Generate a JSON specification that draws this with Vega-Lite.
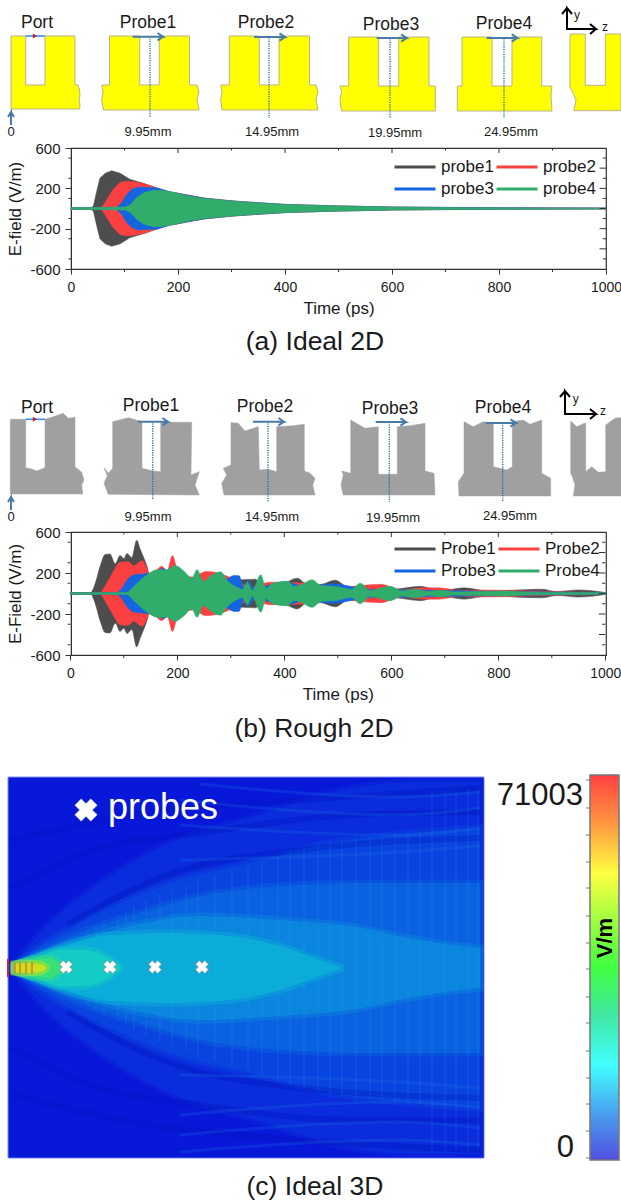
{
"$schema":"https://vega.github.io/schema/vega-lite/v6.json",
"padding":0,
"autosize":{"type":"pad"},
"background":"white",
"bounds":"flush",
"spacing":0,
"config":{"view":{"stroke":null},"font":"Liberation Sans"},
"datasets":{
"frameTicks":[
{"x":100,"x2":100,"y":-600,"y2":-630},{"x":300,"x2":300,"y":-600,"y2":-630},{"x":500,"x2":500,"y":-600,"y2":-630},{"x":700,"x2":700,"y":-600,"y2":-630},{"x":900,"x2":900,"y":-600,"y2":-630},
{"x":200,"x2":200,"y":600,"y2":550},{"x":400,"x2":400,"y":600,"y2":550},{"x":600,"x2":600,"y":600,"y2":550},{"x":800,"x2":800,"y":600,"y2":550},
{"x":100,"x2":100,"y":600,"y2":575},{"x":300,"x2":300,"y":600,"y2":575},{"x":500,"x2":500,"y":600,"y2":575},{"x":700,"x2":700,"y":600,"y2":575},{"x":900,"x2":900,"y":600,"y2":575},
{"x":0,"x2":-5,"y":-500,"y2":-500},{"x":0,"x2":-5,"y":-300,"y2":-300},{"x":0,"x2":-5,"y":-100,"y2":-100},{"x":0,"x2":-5,"y":100,"y2":100},{"x":0,"x2":-5,"y":300,"y2":300},{"x":0,"x2":-5,"y":500,"y2":500},
{"x":1000,"x2":988,"y":-400,"y2":-400},{"x":1000,"x2":988,"y":-200,"y2":-200},{"x":1000,"x2":988,"y":0,"y2":0},{"x":1000,"x2":988,"y":200,"y2":200},{"x":1000,"x2":988,"y":400,"y2":400},
{"x":1000,"x2":994,"y":-500,"y2":-500},{"x":1000,"x2":994,"y":-300,"y2":-300},{"x":1000,"x2":994,"y":-100,"y2":-100},{"x":1000,"x2":994,"y":100,"y2":100},{"x":1000,"x2":994,"y":300,"y2":300},{"x":1000,"x2":994,"y":500,"y2":500}
],
"idealEnvelope":[
{"p":"probe1","t":0,"hi":8},{"p":"probe1","t":38,"hi":8},{"p":"probe1","t":42,"hi":30},{"p":"probe1","t":48,"hi":170},{"p":"probe1","t":54,"hi":300},{"p":"probe1","t":64,"hi":350},{"p":"probe1","t":76,"hi":375},{"p":"probe1","t":92,"hi":350},{"p":"probe1","t":110,"hi":290},{"p":"probe1","t":135,"hi":250},{"p":"probe1","t":160,"hi":205},{"p":"probe1","t":180,"hi":170},{"p":"probe1","t":200,"hi":152},{"p":"probe1","t":220,"hi":127},{"p":"probe1","t":250,"hi":102},{"p":"probe1","t":300,"hi":76},{"p":"probe1","t":350,"hi":56},{"p":"probe1","t":400,"hi":41},{"p":"probe1","t":450,"hi":33},{"p":"probe1","t":500,"hi":26},{"p":"probe1","t":600,"hi":15},{"p":"probe1","t":700,"hi":10},{"p":"probe1","t":800,"hi":7},{"p":"probe1","t":900,"hi":6},{"p":"probe1","t":1000,"hi":5},
{"p":"probe2","t":0,"hi":8},{"p":"probe2","t":55,"hi":8},{"p":"probe2","t":60,"hi":30},{"p":"probe2","t":67,"hi":90},{"p":"probe2","t":79,"hi":190},{"p":"probe2","t":92,"hi":260},{"p":"probe2","t":107,"hi":272},{"p":"probe2","t":135,"hi":250},{"p":"probe2","t":160,"hi":203},{"p":"probe2","t":185,"hi":165},{"p":"probe2","t":200,"hi":151},{"p":"probe2","t":250,"hi":103},{"p":"probe2","t":300,"hi":75},{"p":"probe2","t":400,"hi":40},{"p":"probe2","t":500,"hi":25},{"p":"probe2","t":600,"hi":15},{"p":"probe2","t":800,"hi":7},{"p":"probe2","t":1000,"hi":5},
{"p":"probe3","t":0,"hi":8},{"p":"probe3","t":85,"hi":10},{"p":"probe3","t":95,"hi":60},{"p":"probe3","t":104,"hi":140},{"p":"probe3","t":114,"hi":190},{"p":"probe3","t":126,"hi":212},{"p":"probe3","t":160,"hi":205},{"p":"probe3","t":185,"hi":165},{"p":"probe3","t":200,"hi":150},{"p":"probe3","t":250,"hi":102},{"p":"probe3","t":300,"hi":75},{"p":"probe3","t":400,"hi":40},{"p":"probe3","t":500,"hi":25},{"p":"probe3","t":600,"hi":15},{"p":"probe3","t":800,"hi":7},{"p":"probe3","t":1000,"hi":5},
{"p":"probe4","t":0,"hi":8},{"p":"probe4","t":101,"hi":15},{"p":"probe4","t":111,"hi":40},{"p":"probe4","t":123,"hi":110},{"p":"probe4","t":136,"hi":155},{"p":"probe4","t":154,"hi":180},{"p":"probe4","t":168,"hi":180},{"p":"probe4","t":185,"hi":165},{"p":"probe4","t":200,"hi":150},{"p":"probe4","t":220,"hi":125},{"p":"probe4","t":250,"hi":100},{"p":"probe4","t":300,"hi":74},{"p":"probe4","t":350,"hi":55},{"p":"probe4","t":400,"hi":40},{"p":"probe4","t":450,"hi":32},{"p":"probe4","t":500,"hi":25},{"p":"probe4","t":600,"hi":14},{"p":"probe4","t":700,"hi":9},{"p":"probe4","t":800,"hi":7},{"p":"probe4","t":900,"hi":5},{"p":"probe4","t":1000,"hi":4}
],
"roughEnvelope":[
{"p":"Probe1","t":0,"hi":8},{"p":"Probe1","t":38,"hi":8},{"p":"Probe1","t":46,"hi":90},{"p":"Probe1","t":56,"hi":270},{"p":"Probe1","t":65,"hi":380},{"p":"Probe1","t":74,"hi":385},{"p":"Probe1","t":84,"hi":290},{"p":"Probe1","t":93,"hi":370},{"p":"Probe1","t":100,"hi":340},{"p":"Probe1","t":106,"hi":390},{"p":"Probe1","t":115,"hi":350},{"p":"Probe1","t":124,"hi":520},{"p":"Probe1","t":131,"hi":430},{"p":"Probe1","t":143,"hi":270},{"p":"Probe1","t":150,"hi":150},{"p":"Probe1","t":300,"hi":130},{"p":"Probe1","t":346,"hi":140},{"p":"Probe1","t":360,"hi":60},{"p":"Probe1","t":400,"hi":100},{"p":"Probe1","t":424,"hi":150},{"p":"Probe1","t":445,"hi":80},{"p":"Probe1","t":470,"hi":90},{"p":"Probe1","t":495,"hi":130},{"p":"Probe1","t":520,"hi":60},{"p":"Probe1","t":600,"hi":40},{"p":"Probe1","t":655,"hi":70},{"p":"Probe1","t":690,"hi":25},{"p":"Probe1","t":736,"hi":55},{"p":"Probe1","t":780,"hi":25},{"p":"Probe1","t":880,"hi":42},{"p":"Probe1","t":910,"hi":20},{"p":"Probe1","t":950,"hi":35},{"p":"Probe1","t":1000,"hi":10},
{"p":"Probe2","t":0,"hi":8},{"p":"Probe2","t":55,"hi":8},{"p":"Probe2","t":68,"hi":100},{"p":"Probe2","t":81,"hi":220},{"p":"Probe2","t":93,"hi":305},{"p":"Probe2","t":109,"hi":310},{"p":"Probe2","t":118,"hi":270},{"p":"Probe2","t":134,"hi":320},{"p":"Probe2","t":143,"hi":250},{"p":"Probe2","t":149,"hi":170},{"p":"Probe2","t":171,"hi":265},{"p":"Probe2","t":181,"hi":220},{"p":"Probe2","t":191,"hi":370},{"p":"Probe2","t":200,"hi":240},{"p":"Probe2","t":230,"hi":160},{"p":"Probe2","t":253,"hi":215},{"p":"Probe2","t":268,"hi":210},{"p":"Probe2","t":300,"hi":155},{"p":"Probe2","t":340,"hi":60},{"p":"Probe2","t":372,"hi":110},{"p":"Probe2","t":450,"hi":100},{"p":"Probe2","t":500,"hi":60},{"p":"Probe2","t":580,"hi":90},{"p":"Probe2","t":620,"hi":35},{"p":"Probe2","t":661,"hi":55},{"p":"Probe2","t":690,"hi":55},{"p":"Probe2","t":730,"hi":25},{"p":"Probe2","t":765,"hi":35},{"p":"Probe2","t":900,"hi":18},{"p":"Probe2","t":1000,"hi":8},
{"p":"Probe3","t":0,"hi":8},{"p":"Probe3","t":87,"hi":10},{"p":"Probe3","t":96,"hi":50},{"p":"Probe3","t":106,"hi":130},{"p":"Probe3","t":118,"hi":180},{"p":"Probe3","t":143,"hi":195},{"p":"Probe3","t":162,"hi":215},{"p":"Probe3","t":174,"hi":245},{"p":"Probe3","t":187,"hi":200},{"p":"Probe3","t":280,"hi":100},{"p":"Probe3","t":306,"hi":175},{"p":"Probe3","t":315,"hi":175},{"p":"Probe3","t":325,"hi":60},{"p":"Probe3","t":331,"hi":125},{"p":"Probe3","t":345,"hi":50},{"p":"Probe3","t":400,"hi":115},{"p":"Probe3","t":440,"hi":70},{"p":"Probe3","t":490,"hi":95},{"p":"Probe3","t":560,"hi":40},{"p":"Probe3","t":640,"hi":35},{"p":"Probe3","t":800,"hi":20},{"p":"Probe3","t":1000,"hi":8},
{"p":"Probe4","t":0,"hi":8},{"p":"Probe4","t":106,"hi":10},{"p":"Probe4","t":115,"hi":50},{"p":"Probe4","t":131,"hi":130},{"p":"Probe4","t":143,"hi":180},{"p":"Probe4","t":162,"hi":232},{"p":"Probe4","t":181,"hi":232},{"p":"Probe4","t":196,"hi":272},{"p":"Probe4","t":212,"hi":220},{"p":"Probe4","t":227,"hi":150},{"p":"Probe4","t":237,"hi":232},{"p":"Probe4","t":249,"hi":120},{"p":"Probe4","t":262,"hi":170},{"p":"Probe4","t":281,"hi":212},{"p":"Probe4","t":293,"hi":130},{"p":"Probe4","t":312,"hi":60},{"p":"Probe4","t":321,"hi":40},{"p":"Probe4","t":331,"hi":110},{"p":"Probe4","t":340,"hi":30},{"p":"Probe4","t":356,"hi":182},{"p":"Probe4","t":366,"hi":50},{"p":"Probe4","t":378,"hi":100},{"p":"Probe4","t":406,"hi":120},{"p":"Probe4","t":418,"hi":70},{"p":"Probe4","t":431,"hi":85},{"p":"Probe4","t":452,"hi":135},{"p":"Probe4","t":468,"hi":80},{"p":"Probe4","t":500,"hi":65},{"p":"Probe4","t":525,"hi":40},{"p":"Probe4","t":542,"hi":100},{"p":"Probe4","t":560,"hi":30},{"p":"Probe4","t":598,"hi":70},{"p":"Probe4","t":620,"hi":25},{"p":"Probe4","t":645,"hi":42},{"p":"Probe4","t":670,"hi":20},{"p":"Probe4","t":692,"hi":32},{"p":"Probe4","t":720,"hi":15},{"p":"Probe4","t":812,"hi":25},{"p":"Probe4","t":860,"hi":12},{"p":"Probe4","t":1000,"hi":8}
]
},
"resolve":{"scale":{"color":"independent","stroke":"independent"},"legend":{"color":"independent","stroke":"independent"}},
"vconcat":[
{"width":535,"height":148,
"encoding":{"x":{"field":"x","type":"quantitative","scale":{"domain":[71,606],"nice":false,"zero":false},"axis":null},"y":{"field":"y","type":"quantitative","scale":{"domain":[0,148],"reverse":true,"nice":false,"zero":false},"axis":null}},
"layer":[
{"data":{"values":[{"x":0,"x2":621,"y":0,"y2":148}]},"mark":{"type":"rect","opacity":0},"encoding":{"x2":{"field":"x2"},"y2":{"field":"y2"}}},
{"data":{"values":[
{"s":"port","i":0,"x":11,"y":36},{"s":"port","i":1,"x":25.7,"y":36},{"s":"port","i":2,"x":25.7,"y":85},{"s":"port","i":3,"x":45,"y":85},{"s":"port","i":4,"x":45,"y":36},{"s":"port","i":5,"x":75,"y":36},{"s":"port","i":6,"x":75,"y":85},{"s":"port","i":7,"x":78,"y":85},{"s":"port","i":8,"x":79.5,"y":90},{"s":"port","i":9,"x":80,"y":96},{"s":"port","i":10,"x":79,"y":100},{"s":"port","i":11,"x":80,"y":105},{"s":"port","i":12,"x":79.5,"y":109},{"s":"port","i":13,"x":11,"y":109},{"s":"port","i":14,"x":11,"y":36},
{"s":"p1","i":0,"x":109.5,"y":36},{"s":"p1","i":1,"x":139.7,"y":36},{"s":"p1","i":2,"x":139.7,"y":85},{"s":"p1","i":3,"x":159.3,"y":85},{"s":"p1","i":4,"x":159.3,"y":36},{"s":"p1","i":5,"x":189.5,"y":36},{"s":"p1","i":6,"x":189.5,"y":85},{"s":"p1","i":7,"x":197,"y":85},{"s":"p1","i":8,"x":199,"y":92},{"s":"p1","i":9,"x":197,"y":99},{"s":"p1","i":10,"x":199,"y":110},{"s":"p1","i":11,"x":103.5,"y":110},{"s":"p1","i":12,"x":101.7,"y":100},{"s":"p1","i":13,"x":103,"y":92},{"s":"p1","i":14,"x":101.7,"y":85},{"s":"p1","i":15,"x":109.5,"y":85},{"s":"p1","i":16,"x":109.5,"y":36},
{"s":"p2","i":0,"x":229.3,"y":36},{"s":"p2","i":1,"x":259.3,"y":36},{"s":"p2","i":2,"x":259.3,"y":85},{"s":"p2","i":3,"x":279,"y":85},{"s":"p2","i":4,"x":279,"y":36},{"s":"p2","i":5,"x":309.5,"y":36},{"s":"p2","i":6,"x":309.5,"y":85},{"s":"p2","i":7,"x":316,"y":85},{"s":"p2","i":8,"x":318,"y":92},{"s":"p2","i":9,"x":316,"y":99},{"s":"p2","i":10,"x":318,"y":110},{"s":"p2","i":11,"x":222,"y":110},{"s":"p2","i":12,"x":220.7,"y":100},{"s":"p2","i":13,"x":222,"y":92},{"s":"p2","i":14,"x":220.7,"y":85},{"s":"p2","i":15,"x":229.3,"y":85},{"s":"p2","i":16,"x":229.3,"y":36},
{"s":"p3","i":0,"x":348.7,"y":37},{"s":"p3","i":1,"x":378.7,"y":37},{"s":"p3","i":2,"x":378.7,"y":86},{"s":"p3","i":3,"x":398.7,"y":86},{"s":"p3","i":4,"x":398.7,"y":37},{"s":"p3","i":5,"x":429,"y":37},{"s":"p3","i":6,"x":429,"y":86},{"s":"p3","i":7,"x":435.3,"y":86},{"s":"p3","i":8,"x":435.3,"y":111},{"s":"p3","i":9,"x":341.5,"y":111},{"s":"p3","i":10,"x":340,"y":100},{"s":"p3","i":11,"x":341.5,"y":92},{"s":"p3","i":12,"x":340,"y":86},{"s":"p3","i":13,"x":348.7,"y":86},{"s":"p3","i":14,"x":348.7,"y":37},
{"s":"p4","i":0,"x":462,"y":37},{"s":"p4","i":1,"x":492,"y":37},{"s":"p4","i":2,"x":492,"y":86},{"s":"p4","i":3,"x":512,"y":86},{"s":"p4","i":4,"x":512,"y":37},{"s":"p4","i":5,"x":541.7,"y":37},{"s":"p4","i":6,"x":541.7,"y":86},{"s":"p4","i":7,"x":552,"y":86},{"s":"p4","i":8,"x":551,"y":95},{"s":"p4","i":9,"x":552,"y":111},{"s":"p4","i":10,"x":457.3,"y":111},{"s":"p4","i":11,"x":457.3,"y":86},{"s":"p4","i":12,"x":462,"y":86},{"s":"p4","i":13,"x":462,"y":37},
{"s":"end","i":0,"x":570,"y":34},{"s":"end","i":1,"x":585.3,"y":34},{"s":"end","i":2,"x":585.3,"y":85.3},{"s":"end","i":3,"x":605.3,"y":85.3},{"s":"end","i":4,"x":605.3,"y":34},{"s":"end","i":5,"x":621,"y":34},{"s":"end","i":6,"x":621,"y":110.7},{"s":"end","i":7,"x":574,"y":110.7},{"s":"end","i":8,"x":576,"y":100},{"s":"end","i":9,"x":573,"y":93},{"s":"end","i":10,"x":570,"y":87},{"s":"end","i":11,"x":570,"y":34}
]},"mark":{"type":"line","fill":"#ffff00","stroke":"#b8b48c","strokeWidth":1},"encoding":{"detail":{"field":"s"},"order":{"field":"i"}}},
{"data":{"values":[{"x":25.7,"x2":45,"y":36,"y2":36}]},"mark":{"type":"rule","color":"#2a8cf0","strokeWidth":1.5},"encoding":{"x2":{"field":"x2"},"y2":{"field":"y2"}}},
{"data":{"values":[{"x":35,"y":36}]},"mark":{"type":"point","shape":"triangle-right","filled":true,"color":"#c02030","size":25,"opacity":1}},
{"data":{"values":[{"x":150,"x2":150,"y":36,"y2":117},{"x":269,"x2":269,"y":36,"y2":118},{"x":390,"x2":390,"y":37,"y2":118},{"x":504,"x2":504,"y":37,"y2":118}]},"mark":{"type":"rule","color":"#2f6f9f","strokeWidth":1.4,"strokeDash":[1.2,1.2]},"encoding":{"x2":{"field":"x2"},"y2":{"field":"y2"}}},
{"data":{"values":[
{"s":"a1","i":0,"x":132.7,"y":36.7},{"s":"a1","i":1,"x":163,"y":36.7},{"s":"a1","i":2,"x":157.5,"y":33},{"s":"a1","i":3,"x":163,"y":36.7},{"s":"a1","i":4,"x":157.5,"y":40.4},
{"s":"a2","i":0,"x":254,"y":37},{"s":"a2","i":1,"x":285,"y":37},{"s":"a2","i":2,"x":279.5,"y":33.3},{"s":"a2","i":3,"x":285,"y":37},{"s":"a2","i":4,"x":279.5,"y":40.7},
{"s":"a3","i":0,"x":376.7,"y":38},{"s":"a3","i":1,"x":406.7,"y":38},{"s":"a3","i":2,"x":401.2,"y":34.3},{"s":"a3","i":3,"x":406.7,"y":38},{"s":"a3","i":4,"x":401.2,"y":41.7},
{"s":"a4","i":0,"x":486.7,"y":38},{"s":"a4","i":1,"x":517.3,"y":38},{"s":"a4","i":2,"x":511.8,"y":34.3},{"s":"a4","i":3,"x":517.3,"y":38},{"s":"a4","i":4,"x":511.8,"y":41.7},
{"s":"a0","i":0,"x":11,"y":125},{"s":"a0","i":1,"x":11,"y":112},{"s":"a0","i":2,"x":8,"y":117},{"s":"a0","i":3,"x":11,"y":112},{"s":"a0","i":4,"x":14,"y":117}
]},"mark":{"type":"line","color":"#4a7ba8","strokeWidth":2},"encoding":{"detail":{"field":"s"},"order":{"field":"i"}}},
{"data":{"values":[
{"s":"ax","i":0,"x":562,"y":14},{"s":"ax","i":1,"x":567,"y":8},{"s":"ax","i":2,"x":572,"y":14},{"s":"ax","i":3,"x":567,"y":8},{"s":"ax","i":4,"x":567,"y":29},{"s":"ax","i":5,"x":596,"y":29},{"s":"ax","i":6,"x":590,"y":24},{"s":"ax","i":7,"x":596,"y":29},{"s":"ax","i":8,"x":590,"y":34}
]},"mark":{"type":"line","color":"#000000","strokeWidth":2},"encoding":{"detail":{"field":"s"},"order":{"field":"i"}}},
{"data":{"values":[{"x":37,"y":23,"label":"Port"},{"x":148,"y":23,"label":"Probe1"},{"x":266,"y":23,"label":"Probe2"},{"x":391,"y":25,"label":"Probe3"},{"x":504,"y":24,"label":"Probe4"}]},"mark":{"type":"text","fontSize":17.5,"color":"#1a1a1a"},"encoding":{"text":{"field":"label"}}},
{"data":{"values":[{"x":148,"y":132,"label":"9.95mm"},{"x":272,"y":132,"label":"14.95mm"},{"x":395,"y":133,"label":"19.95mm"},{"x":511,"y":132,"label":"24.95mm"},{"x":11,"y":132,"label":"0"}]},"mark":{"type":"text","fontSize":13,"color":"#1a1a1a"},"encoding":{"text":{"field":"label"}}},
{"data":{"values":[{"x":577,"y":15,"label":"y"},{"x":605,"y":27,"label":"z"}]},"mark":{"type":"text","fontSize":12,"color":"#1a1a1a"},"encoding":{"text":{"field":"label"}}}
]},
{"width":535,"height":121,"view":{"stroke":"#333333","strokeWidth":1.2},
"layer":[
{"data":{"name":"idealEnvelope"},"transform":[{"calculate":"-datum.hi","as":"lo"}],"mark":{"type":"area","strokeWidth":0.5},
"encoding":{"x":{"field":"t","type":"quantitative","scale":{"domain":[0,1000],"nice":false},"axis":{"values":[0,200,400,600,800,1000],"labelExpr":"toString(datum.value)","title":"Time (ps)","titleFontSize":17,"titleFontWeight":"normal","titleColor":"#1a1a1a","titlePadding":6,"labelFontSize":14,"labelColor":"#1a1a1a","labelPadding":6,"labelOverlap":false,"grid":false,"tickSize":5,"tickColor":"#333333","domainColor":"#333333","labelFlush":false}},
"y":{"field":"hi","type":"quantitative","stack":null,"scale":{"domain":[-600,600],"nice":false},"axis":{"values":[-600,-400,-200,0,200,400,600],"labelExpr":"toString(datum.value)","title":"E-field (V/m)","titleFontSize":17,"titleFontWeight":"normal","titleColor":"#1a1a1a","titlePadding":5,"labelFontSize":15,"labelColor":"#1a1a1a","labelPadding":5,"labelOverlap":false,"grid":false,"tickSize":6,"tickColor":"#333333","domainColor":"#333333"}},
"y2":{"field":"lo"},
"color":{"field":"p","type":"nominal","scale":{"domain":["probe1","probe2","probe3","probe4"],"range":["#4d4d4d","#fa4040","#1565e0","#30ad6b"]},"legend":{"title":null,"orient":"none","direction":"horizontal","legendX":322,"legendY":8,"columns":2,"symbolType":"stroke","symbolSize":1681,"symbolStrokeWidth":3,"clipHeight":22,"rowPadding":0,"columnPadding":1,"labelOffset":4,"labelFontSize":17,"labelColor":"#1a1a1a","padding":0}},
"stroke":{"field":"p","type":"nominal","scale":{"domain":["probe1","probe2","probe3","probe4"],"range":["#4d4d4d","#fa4040","#1565e0","#30ad6b"]},"legend":{"title":null,"orient":"none","direction":"horizontal","legendX":322,"legendY":8,"columns":2,"symbolType":"stroke","symbolSize":1681,"symbolStrokeWidth":3,"clipHeight":22,"rowPadding":0,"columnPadding":1,"labelOffset":4,"labelFontSize":17,"labelColor":"#1a1a1a","padding":0}}}},
{"data":{"name":"frameTicks"},"mark":{"type":"rule","color":"#333333","strokeWidth":1},"encoding":{"x":{"field":"x","type":"quantitative"},"x2":{"field":"x2"},"y":{"field":"y","type":"quantitative"},"y2":{"field":"y2"}}}
]},
{"width":535,"height":263,
"encoding":{"x":{"field":"x","type":"quantitative","scale":{"domain":[71,606],"nice":false,"zero":false},"axis":null},"y":{"field":"y","type":"quantitative","scale":{"domain":[269,532],"reverse":true,"nice":false,"zero":false},"axis":null}},
"layer":[
{"data":{"values":[
{"s":"port","i":0,"x":10.3,"y":419.3},{"s":"port","i":1,"x":25.7,"y":419.3},{"s":"port","i":2,"x":25.7,"y":467.7},{"s":"port","i":3,"x":31.7,"y":469},{"s":"port","i":4,"x":36.7,"y":471},{"s":"port","i":5,"x":45,"y":467.7},{"s":"port","i":6,"x":45,"y":419.3},{"s":"port","i":7,"x":53.3,"y":416.7},{"s":"port","i":8,"x":63.3,"y":413.3},{"s":"port","i":9,"x":68.3,"y":418.3},{"s":"port","i":10,"x":75,"y":417.3},{"s":"port","i":11,"x":75,"y":466.7},{"s":"port","i":12,"x":81.7,"y":472.3},{"s":"port","i":13,"x":84,"y":480},{"s":"port","i":14,"x":81.7,"y":485},{"s":"port","i":15,"x":82.7,"y":494},{"s":"port","i":16,"x":10.3,"y":494},{"s":"port","i":17,"x":10.3,"y":419.3},
{"s":"p1","i":0,"x":112.7,"y":421.7},{"s":"p1","i":1,"x":128.3,"y":417.7},{"s":"p1","i":2,"x":142,"y":421.7},{"s":"p1","i":3,"x":142,"y":468.3},{"s":"p1","i":4,"x":153.3,"y":471},{"s":"p1","i":5,"x":160.7,"y":471.7},{"s":"p1","i":6,"x":160.7,"y":421.7},{"s":"p1","i":7,"x":173.3,"y":422.3},{"s":"p1","i":8,"x":191.7,"y":422.3},{"s":"p1","i":9,"x":191,"y":475},{"s":"p1","i":10,"x":199.3,"y":471.7},{"s":"p1","i":11,"x":195,"y":485},{"s":"p1","i":12,"x":199.3,"y":495},{"s":"p1","i":13,"x":108.3,"y":494.3},{"s":"p1","i":14,"x":104,"y":483.3},{"s":"p1","i":15,"x":107.3,"y":475.7},{"s":"p1","i":16,"x":104,"y":467.7},{"s":"p1","i":17,"x":108.3,"y":473.3},{"s":"p1","i":18,"x":112.7,"y":468.3},{"s":"p1","i":19,"x":112.7,"y":421.7},
{"s":"p2","i":0,"x":231,"y":422.7},{"s":"p2","i":1,"x":238.3,"y":423.3},{"s":"p2","i":2,"x":245,"y":431},{"s":"p2","i":3,"x":258.3,"y":426.7},{"s":"p2","i":4,"x":259.3,"y":470},{"s":"p2","i":5,"x":268.3,"y":469.3},{"s":"p2","i":6,"x":276.7,"y":471.7},{"s":"p2","i":7,"x":276.7,"y":426.7},{"s":"p2","i":8,"x":293.3,"y":425.7},{"s":"p2","i":9,"x":304.3,"y":424.3},{"s":"p2","i":10,"x":304.3,"y":471},{"s":"p2","i":11,"x":310,"y":473.3},{"s":"p2","i":12,"x":315,"y":478.3},{"s":"p2","i":13,"x":312.7,"y":485},{"s":"p2","i":14,"x":315,"y":495},{"s":"p2","i":15,"x":224,"y":495},{"s":"p2","i":16,"x":221.7,"y":483.3},{"s":"p2","i":17,"x":226.7,"y":475},{"s":"p2","i":18,"x":223.3,"y":468.3},{"s":"p2","i":19,"x":231,"y":465},{"s":"p2","i":20,"x":231,"y":422.7},
{"s":"p3","i":0,"x":350.7,"y":420},{"s":"p3","i":1,"x":365,"y":428.3},{"s":"p3","i":2,"x":378.3,"y":426.7},{"s":"p3","i":3,"x":378.3,"y":474.3},{"s":"p3","i":4,"x":388.3,"y":474.3},{"s":"p3","i":5,"x":397.3,"y":474.3},{"s":"p3","i":6,"x":397.3,"y":426.7},{"s":"p3","i":7,"x":410,"y":425.7},{"s":"p3","i":8,"x":425,"y":423.3},{"s":"p3","i":9,"x":425,"y":471},{"s":"p3","i":10,"x":434,"y":473.3},{"s":"p3","i":11,"x":435,"y":495},{"s":"p3","i":12,"x":343.3,"y":495},{"s":"p3","i":13,"x":341,"y":485},{"s":"p3","i":14,"x":343.3,"y":475},{"s":"p3","i":15,"x":341.7,"y":471},{"s":"p3","i":16,"x":350.7,"y":473.3},{"s":"p3","i":17,"x":350.7,"y":420},
{"s":"p4","i":0,"x":464,"y":421.7},{"s":"p4","i":1,"x":473.3,"y":426.7},{"s":"p4","i":2,"x":483.3,"y":421.7},{"s":"p4","i":3,"x":493.3,"y":423.3},{"s":"p4","i":4,"x":493.3,"y":466.7},{"s":"p4","i":5,"x":500,"y":468.3},{"s":"p4","i":6,"x":506.7,"y":470},{"s":"p4","i":7,"x":512.3,"y":466.7},{"s":"p4","i":8,"x":512.3,"y":421.7},{"s":"p4","i":9,"x":523.3,"y":420},{"s":"p4","i":10,"x":530,"y":424.3},{"s":"p4","i":11,"x":541.7,"y":420},{"s":"p4","i":12,"x":541.7,"y":473.3},{"s":"p4","i":13,"x":550.7,"y":478.3},{"s":"p4","i":14,"x":550.7,"y":496},{"s":"p4","i":15,"x":459,"y":496},{"s":"p4","i":16,"x":458.3,"y":481.7},{"s":"p4","i":17,"x":464,"y":473.3},{"s":"p4","i":18,"x":464,"y":421.7},
{"s":"end","i":0,"x":570.7,"y":421},{"s":"end","i":1,"x":576.7,"y":426.7},{"s":"end","i":2,"x":585.7,"y":422.7},{"s":"end","i":3,"x":585.7,"y":471.7},{"s":"end","i":4,"x":591.7,"y":466.7},{"s":"end","i":5,"x":598.3,"y":472.3},{"s":"end","i":6,"x":605.7,"y":471.7},{"s":"end","i":7,"x":605.7,"y":425},{"s":"end","i":8,"x":615,"y":418.3},{"s":"end","i":9,"x":621,"y":417.7},{"s":"end","i":10,"x":621,"y":496},{"s":"end","i":11,"x":573.3,"y":496},{"s":"end","i":12,"x":575,"y":485},{"s":"end","i":13,"x":571.7,"y":475},{"s":"end","i":14,"x":570.7,"y":473.3},{"s":"end","i":15,"x":570.7,"y":421}
]},"mark":{"type":"line","fill":"#a0a0a0","stroke":"#a0a0a0","strokeWidth":0.5},"encoding":{"detail":{"field":"s"},"order":{"field":"i"}}},
{"data":{"values":[{"x":25.7,"x2":45,"y":419.3,"y2":419.3}]},"mark":{"type":"rule","color":"#2a8cf0","strokeWidth":1.5},"encoding":{"x2":{"field":"x2"},"y2":{"field":"y2"}}},
{"data":{"values":[{"x":35,"y":419.3}]},"mark":{"type":"point","shape":"triangle-right","filled":true,"color":"#c02030","size":25,"opacity":1}},
{"data":{"values":[{"x":152.7,"x2":152.7,"y":421,"y2":499},{"x":268,"x2":268,"y":421,"y2":502},{"x":389.3,"x2":389.3,"y":422,"y2":502},{"x":502.7,"x2":502.7,"y":423,"y2":502}]},"mark":{"type":"rule","color":"#2f6f9f","strokeWidth":1.4,"strokeDash":[1.2,1.2]},"encoding":{"x2":{"field":"x2"},"y2":{"field":"y2"}}},
{"data":{"values":[
{"s":"a1","i":0,"x":138,"y":421.7},{"s":"a1","i":1,"x":168,"y":421.7},{"s":"a1","i":2,"x":162.5,"y":418},{"s":"a1","i":3,"x":168,"y":421.7},{"s":"a1","i":4,"x":162.5,"y":425.4},
{"s":"a2","i":0,"x":253,"y":421.7},{"s":"a2","i":1,"x":284,"y":421.7},{"s":"a2","i":2,"x":278.5,"y":418},{"s":"a2","i":3,"x":284,"y":421.7},{"s":"a2","i":4,"x":278.5,"y":425.4},
{"s":"a3","i":0,"x":375.7,"y":422},{"s":"a3","i":1,"x":406,"y":422},{"s":"a3","i":2,"x":400.5,"y":418.3},{"s":"a3","i":3,"x":406,"y":422},{"s":"a3","i":4,"x":400.5,"y":425.7},
{"s":"a4","i":0,"x":485.7,"y":423},{"s":"a4","i":1,"x":516,"y":423},{"s":"a4","i":2,"x":510.5,"y":419.3},{"s":"a4","i":3,"x":516,"y":423},{"s":"a4","i":4,"x":510.5,"y":426.7},
{"s":"a0","i":0,"x":11,"y":510},{"s":"a0","i":1,"x":11,"y":497},{"s":"a0","i":2,"x":8,"y":502},{"s":"a0","i":3,"x":11,"y":497},{"s":"a0","i":4,"x":14,"y":502}
]},"mark":{"type":"line","color":"#4a7ba8","strokeWidth":2},"encoding":{"detail":{"field":"s"},"order":{"field":"i"}}},
{"data":{"values":[
{"s":"ax","i":0,"x":560,"y":397},{"s":"ax","i":1,"x":565,"y":391},{"s":"ax","i":2,"x":570,"y":397},{"s":"ax","i":3,"x":565,"y":391},{"s":"ax","i":4,"x":565,"y":414},{"s":"ax","i":5,"x":596,"y":414},{"s":"ax","i":6,"x":590,"y":409},{"s":"ax","i":7,"x":596,"y":414},{"s":"ax","i":8,"x":590,"y":419}
]},"mark":{"type":"line","color":"#000000","strokeWidth":2},"encoding":{"detail":{"field":"s"},"order":{"field":"i"}}},
{"data":{"values":[{"x":37,"y":408,"label":"Port"},{"x":151,"y":406,"label":"Probe1"},{"x":265,"y":407,"label":"Probe2"},{"x":390,"y":409,"label":"Probe3"},{"x":503,"y":408,"label":"Probe4"}]},"mark":{"type":"text","fontSize":17.5,"color":"#1a1a1a"},"encoding":{"text":{"field":"label"}}},
{"data":{"values":[{"x":148,"y":517,"label":"9.95mm"},{"x":272,"y":517,"label":"14.95mm"},{"x":393,"y":518,"label":"19.95mm"},{"x":510,"y":516,"label":"24.95mm"},{"x":11,"y":517,"label":"0"}]},"mark":{"type":"text","fontSize":13,"color":"#1a1a1a"},"encoding":{"text":{"field":"label"}}},
{"data":{"values":[{"x":575.7,"y":399,"label":"y"},{"x":603,"y":411,"label":"z"}]},"mark":{"type":"text","fontSize":12,"color":"#1a1a1a"},"encoding":{"text":{"field":"label"}}},
{"data":{"values":[{"x":315,"y":342,"label":"(a) Ideal 2D"}]},"mark":{"type":"text","fontSize":26.5,"color":"#1a1a1a"},"encoding":{"text":{"field":"label"}}}
]},
{"width":535,"height":123,"view":{"stroke":"#333333","strokeWidth":1.2},
"layer":[
{"data":{"name":"roughEnvelope"},"transform":[{"calculate":"-datum.hi","as":"lo"}],"mark":{"type":"area","strokeWidth":0.5,"interpolate":"monotone"},
"encoding":{"x":{"field":"t","type":"quantitative","scale":{"domain":[0,1000],"nice":false,"range":[-0.7,534.3]},"axis":{"values":[0,200,400,600,800,1000],"labelExpr":"toString(datum.value)","title":"Time (ps)","titleFontSize":17,"titleFontWeight":"normal","titleColor":"#1a1a1a","titlePadding":6,"labelFontSize":14,"labelColor":"#1a1a1a","labelPadding":6,"labelOverlap":false,"grid":false,"tickSize":5,"tickColor":"#333333","domainColor":"#333333","labelFlush":false}},
"y":{"field":"hi","type":"quantitative","stack":null,"scale":{"domain":[-600,600],"nice":false},"axis":{"values":[-600,-400,-200,0,200,400,600],"labelExpr":"toString(datum.value)","title":"E-Field (V/m)","titleFontSize":17,"titleFontWeight":"normal","titleColor":"#1a1a1a","titlePadding":5,"labelFontSize":15,"labelColor":"#1a1a1a","labelPadding":5,"labelOverlap":false,"grid":false,"tickSize":6,"tickColor":"#333333","domainColor":"#333333"}},
"y2":{"field":"lo"},
"color":{"field":"p","type":"nominal","scale":{"domain":["Probe1","Probe2","Probe3","Probe4"],"range":["#4d4d4d","#fa4040","#1565e0","#30ad6b"]},"legend":{"title":null,"orient":"none","direction":"horizontal","legendX":322,"legendY":6,"columns":2,"symbolType":"stroke","symbolSize":1681,"symbolStrokeWidth":3,"clipHeight":22,"rowPadding":0,"columnPadding":1,"labelOffset":4,"labelFontSize":17,"labelColor":"#1a1a1a","padding":0}},
"stroke":{"field":"p","type":"nominal","scale":{"domain":["Probe1","Probe2","Probe3","Probe4"],"range":["#4d4d4d","#fa4040","#1565e0","#30ad6b"]},"legend":{"title":null,"orient":"none","direction":"horizontal","legendX":322,"legendY":6,"columns":2,"symbolType":"stroke","symbolSize":1681,"symbolStrokeWidth":3,"clipHeight":22,"rowPadding":0,"columnPadding":1,"labelOffset":4,"labelFontSize":17,"labelColor":"#1a1a1a","padding":0}}}},
{"data":{"name":"frameTicks"},"mark":{"type":"rule","color":"#333333","strokeWidth":1},"encoding":{"x":{"field":"x","type":"quantitative"},"x2":{"field":"x2"},"y":{"field":"y","type":"quantitative"},"y2":{"field":"y2"}}}
]},
{"width":535,"height":548,
"encoding":{"x":{"field":"x","type":"quantitative","scale":{"domain":[71,606],"nice":false,"zero":false},"axis":null},"y":{"field":"y","type":"quantitative","scale":{"domain":[655,1203],"reverse":true,"nice":false,"zero":false},"axis":null}},
"layer":[
{"data":{"values":[{"x":8,"x2":484,"y":777,"y2":1158}]},"mark":{"type":"rect","fill":"#0818d8","stroke":"#7a8cf0","strokeWidth":1},"encoding":{"x2":{"field":"x2"},"y2":{"field":"y2"}}},
{"data":{"values":[
{"lv":"z","x":14,"y":782,"y2":1154},{"lv":"z","x":480,"y":782,"y2":1154},
{"lv":"a","x":14,"y":964,"y2":972},{"lv":"a","x":40,"y":933,"y2":1003},{"lv":"a","x":100,"y":883,"y2":1053},{"lv":"a","x":170,"y":843,"y2":1093},{"lv":"a","x":250,"y":818,"y2":1118},{"lv":"a","x":330,"y":793,"y2":1143},{"lv":"a","x":410,"y":782,"y2":1154},{"lv":"a","x":480,"y":782,"y2":1154},
{"lv":"b","x":14,"y":965,"y2":971},{"lv":"b","x":40,"y":946,"y2":990},{"lv":"b","x":100,"y":913,"y2":1023},{"lv":"b","x":170,"y":883,"y2":1053},{"lv":"b","x":250,"y":863,"y2":1073},{"lv":"b","x":330,"y":843,"y2":1093},{"lv":"b","x":410,"y":833,"y2":1103},{"lv":"b","x":480,"y":828,"y2":1108},
{"lv":"c","x":14,"y":966,"y2":970},{"lv":"c","x":40,"y":951,"y2":985},{"lv":"c","x":80,"y":933,"y2":1003},{"lv":"c","x":130,"y":916,"y2":1020},{"lv":"c","x":200,"y":896,"y2":1040},{"lv":"c","x":280,"y":886,"y2":1050},{"lv":"c","x":360,"y":883,"y2":1053},{"lv":"c","x":480,"y":883,"y2":1053},
{"lv":"d","x":14,"y":966,"y2":970},{"lv":"d","x":40,"y":954,"y2":982},{"lv":"d","x":80,"y":940,"y2":996},{"lv":"d","x":130,"y":926,"y2":1010},{"lv":"d","x":200,"y":916,"y2":1020},{"lv":"d","x":280,"y":920,"y2":1016},{"lv":"d","x":350,"y":926,"y2":1010},{"lv":"d","x":420,"y":940,"y2":996},{"lv":"d","x":480,"y":948,"y2":988},
{"lv":"e","x":14,"y":966,"y2":970},{"lv":"e","x":40,"y":956,"y2":980},{"lv":"e","x":70,"y":944,"y2":992},{"lv":"e","x":110,"y":935,"y2":1001},{"lv":"e","x":170,"y":933,"y2":1003},{"lv":"e","x":230,"y":936,"y2":1000},{"lv":"e","x":280,"y":946,"y2":990},{"lv":"e","x":320,"y":960,"y2":976},{"lv":"e","x":340,"y":967,"y2":969},
{"lv":"f","x":14,"y":965,"y2":971},{"lv":"f","x":40,"y":956,"y2":980},{"lv":"f","x":60,"y":950,"y2":986},{"lv":"f","x":85,"y":950,"y2":986},{"lv":"f","x":105,"y":956,"y2":980},{"lv":"f","x":120,"y":966,"y2":970},
{"lv":"g","x":14,"y":964,"y2":972},{"lv":"g","x":30,"y":960,"y2":976},{"lv":"g","x":50,"y":958,"y2":978},{"lv":"g","x":60,"y":964,"y2":972},
{"lv":"h","x":14,"y":964,"y2":972},{"lv":"h","x":25,"y":963,"y2":973},{"lv":"h","x":40,"y":964,"y2":972},{"lv":"h","x":46,"y":967,"y2":969}
]},"mark":{"type":"area","interpolate":"monotone","strokeWidth":7,"strokeOpacity":0.45},"encoding":{"y2":{"field":"y2"},"color":{"field":"lv","type":"nominal","legend":null,"scale":{"domain":["z","a","b","c","d","e","f","g","h"],"range":["#0818d8","#0a2cdc","#0a44e0","#0a62e0","#0b86de","#0cacd8","#14ccc4","#38e078","#c8e020"]}},"stroke":{"field":"lv","type":"nominal","legend":null,"scale":{"domain":["z","a","b","c","d","e","f","g","h"],"range":["#0818d8","#0a2cdc","#0a44e0","#0a62e0","#0b86de","#0cacd8","#14ccc4","#38e078","#c8e020"]}}}},
{"data":{"values":[
{"s":"d1","i":0,"x":12,"y":888},{"s":"d1","i":1,"x":100,"y":848},{"s":"d1","i":2,"x":200,"y":833},{"s":"d1","i":3,"x":350,"y":815},{"s":"d1","i":4,"x":480,"y":812},
{"s":"d2","i":0,"x":67,"y":925},{"s":"d2","i":1,"x":167,"y":875},{"s":"d2","i":2,"x":300,"y":850},{"s":"d2","i":3,"x":480,"y":838},
{"s":"d3","i":0,"x":67,"y":1012},{"s":"d3","i":1,"x":167,"y":1062},{"s":"d3","i":2,"x":300,"y":1088},{"s":"d3","i":3,"x":480,"y":1098},
{"s":"d4","i":0,"x":12,"y":1048},{"s":"d4","i":1,"x":100,"y":1088},{"s":"d4","i":2,"x":200,"y":1105},{"s":"d4","i":3,"x":350,"y":1120},{"s":"d4","i":4,"x":480,"y":1120},
{"s":"d5","i":0,"x":12,"y":840},{"s":"d5","i":1,"x":150,"y":812},{"s":"d5","i":2,"x":300,"y":800},{"s":"d5","i":3,"x":480,"y":788},
{"s":"d6","i":0,"x":12,"y":1095},{"s":"d6","i":1,"x":150,"y":1125},{"s":"d6","i":2,"x":300,"y":1140},{"s":"d6","i":3,"x":480,"y":1150}
]},"mark":{"type":"line","color":"#0410b8","strokeWidth":6,"opacity":0.3,"interpolate":"monotone"},"encoding":{"detail":{"field":"s"},"order":{"field":"i"}}},
{"data":{"values":[
{"s":"l1","i":0,"x":200,"y":784},{"s":"l1","i":1,"x":400,"y":797},{"s":"l1","i":2,"x":480,"y":792},
{"s":"l2","i":0,"x":180,"y":800},{"s":"l2","i":1,"x":400,"y":815},{"s":"l2","i":2,"x":480,"y":808},
{"s":"l3","i":0,"x":180,"y":825},{"s":"l3","i":1,"x":400,"y":835},{"s":"l3","i":2,"x":480,"y":828},
{"s":"l4","i":0,"x":180,"y":860},{"s":"l4","i":1,"x":400,"y":852},{"s":"l4","i":2,"x":480,"y":846},
{"s":"l5","i":0,"x":180,"y":1152},{"s":"l5","i":1,"x":400,"y":1140},{"s":"l5","i":2,"x":480,"y":1145},
{"s":"l6","i":0,"x":180,"y":1135},{"s":"l6","i":1,"x":400,"y":1122},{"s":"l6","i":2,"x":480,"y":1128},
{"s":"l7","i":0,"x":180,"y":1115},{"s":"l7","i":1,"x":400,"y":1102},{"s":"l7","i":2,"x":480,"y":1108},
{"s":"l8","i":0,"x":180,"y":1075},{"s":"l8","i":1,"x":400,"y":1082},{"s":"l8","i":2,"x":480,"y":1088}
]},"mark":{"type":"line","color":"#1c6ee8","strokeWidth":3,"opacity":0.25,"interpolate":"monotone"},"encoding":{"detail":{"field":"s"},"order":{"field":"i"}}},
{"data":{"values":[
{"x":88,"y":930,"y2":1006},{"x":96,"y":925,"y2":1011},{"x":104,"y":920,"y2":1016},{"x":118,"y":915,"y2":1021},{"x":126,"y":910,"y2":1026},{"x":134,"y":905,"y2":1031},{"x":146,"y":900,"y2":1036},{"x":160,"y":895,"y2":1041},{"x":172,"y":890,"y2":1046},{"x":186,"y":885,"y2":1051},{"x":198,"y":880,"y2":1056},{"x":215,"y":875,"y2":1061},{"x":232,"y":870,"y2":1066},{"x":248,"y":865,"y2":1071},{"x":262,"y":860,"y2":1076},{"x":278,"y":855,"y2":1081},{"x":290,"y":850,"y2":1086},{"x":304,"y":848,"y2":1088},{"x":318,"y":845,"y2":1091},{"x":330,"y":842,"y2":1094},{"x":342,"y":840,"y2":1096},{"x":356,"y":838,"y2":1098},{"x":370,"y":836,"y2":1100},{"x":382,"y":835,"y2":1101},{"x":395,"y":834,"y2":1102},{"x":408,"y":833,"y2":1103},{"x":420,"y":832,"y2":1104},{"x":432,"y":790,"y2":1150},{"x":445,"y":790,"y2":1150},{"x":456,"y":790,"y2":1150},{"x":468,"y":790,"y2":1150},{"x":478,"y":790,"y2":1150}
]},"mark":{"type":"rule","color":"#18b8e8","strokeWidth":1,"opacity":0.2},"encoding":{"y2":{"field":"y2"}}},
{"data":{"values":[{"x":15,"y":963,"y2":973},{"x":20,"y":962,"y2":974},{"x":26,"y":962,"y2":974},{"x":32,"y":962,"y2":974}]},"mark":{"type":"rule","color":"#e86020","strokeWidth":1.5,"opacity":0.8},"encoding":{"y2":{"field":"y2"}}},
{"data":{"values":[{"x":8,"y":959,"y2":977}]},"mark":{"type":"rule","color":"#d02040","strokeWidth":2},"encoding":{"y2":{"field":"y2"}}},
{"data":{"values":[{"x":66,"y":967},{"x":110,"y":967},{"x":155,"y":967},{"x":202,"y":967}]},"mark":{"type":"point","shape":"cross","angle":45,"filled":true,"fill":"#ffffff","stroke":"#888888","strokeWidth":0.6,"size":170,"opacity":1}},
{"data":{"values":[{"x":86,"y":810}]},"mark":{"type":"point","shape":"cross","angle":45,"filled":true,"fill":"#ffffff","stroke":"#aaaaaa","strokeWidth":0.4,"size":520,"opacity":1}},
{"data":{"values":[{"x":108,"y":808,"label":"probes"}]},"mark":{"type":"text","align":"left","fontSize":36,"color":"#ffffff"},"encoding":{"text":{"field":"label"}}},
{"data":{"values":[{"x":590,"x2":619,"y":775,"y2":1160}]},"mark":{"type":"rect","stroke":"#777777","strokeWidth":1.5,"fill":{"gradient":"linear","x1":0,"y1":1,"x2":0,"y2":0,"stops":[{"offset":0,"color":"#5050e0"},{"offset":0.12,"color":"#4a9ff0"},{"offset":0.247,"color":"#40ffff"},{"offset":0.38,"color":"#40e8a0"},{"offset":0.5,"color":"#40ff40"},{"offset":0.745,"color":"#ffff40"},{"offset":0.87,"color":"#ff9a40"},{"offset":1,"color":"#ff4040"}]}},"encoding":{"x2":{"field":"x2"},"y2":{"field":"y2"}}},
{"data":{"values":[{"x":586,"x2":590,"y":780},{"x":586,"x2":590,"y":808},{"x":586,"x2":590,"y":835},{"x":586,"x2":590,"y":862},{"x":586,"x2":590,"y":888},{"x":586,"x2":590,"y":916},{"x":586,"x2":590,"y":943},{"x":586,"x2":590,"y":969},{"x":586,"x2":590,"y":997},{"x":586,"x2":590,"y":1023},{"x":586,"x2":590,"y":1051},{"x":586,"x2":590,"y":1078},{"x":586,"x2":590,"y":1104},{"x":586,"x2":590,"y":1131},{"x":586,"x2":590,"y":1158}]},"mark":{"type":"rule","color":"#777777","strokeWidth":1},"encoding":{"x2":{"field":"x2"}}},
{"data":{"values":[{"x":583,"y":796,"label":"71003"},{"x":574,"y":1148,"label":"0"}]},"mark":{"type":"text","align":"right","fontSize":31,"color":"#1a1a1a"},"encoding":{"text":{"field":"label"}}},
{"data":{"values":[{"x":605,"y":938,"label":"V/m"}]},"mark":{"type":"text","angle":270,"fontSize":22,"fontWeight":"bold","color":"#000000"},"encoding":{"text":{"field":"label"}}},
{"data":{"values":[{"x":314,"y":729,"label":"(b) Rough 2D"},{"x":315,"y":1187,"label":"(c) Ideal 3D"}]},"mark":{"type":"text","fontSize":26.5,"color":"#1a1a1a"},"encoding":{"text":{"field":"label"}}}
]}
]
}
